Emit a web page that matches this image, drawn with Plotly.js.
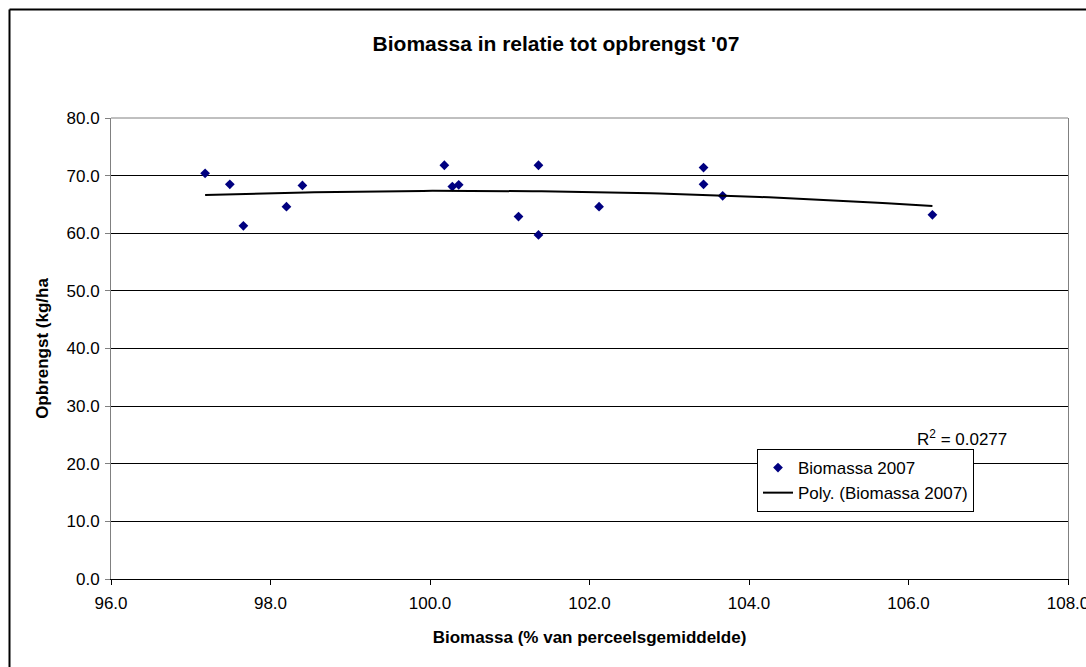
<!DOCTYPE html>
<html>
<head>
<meta charset="utf-8">
<script src="https://cdn.plot.ly/plotly-3.0.1.min.js"></script>
<style>
html,body{margin:0;padding:0;background:#fff;}
#chart{width:1086px;height:667px;}
</style>
</head>
<body>
<div id="chart"></div>
<script>
// Data
var biomassa = [97.18, 97.49, 97.66, 98.20, 98.40, 100.18, 100.28, 100.36, 101.11, 101.36, 101.36, 102.12, 103.43, 103.43, 103.67, 106.30];
var opbrengst = [70.4, 68.5, 61.3, 64.6, 68.3, 71.8, 68.1, 68.4, 62.9, 71.8, 59.7, 64.6, 71.4, 68.5, 66.5, 63.2];
var xTicks = [96, 98, 100, 102, 104, 106, 108];
var yTicks = [0, 10, 20, 30, 40, 50, 60, 70, 80];
var seriesName = "Biomassa 2007";
var trendName = "Poly. (Biomassa 2007)";
var r2Label = "R<sup>2</sup> = 0.0277";

// Order-2 polynomial least-squares trendline computed from the data
function polyFit2(xs, ys) {
  var n = xs.length, mx = 0;
  for (var i = 0; i < n; i++) mx += xs[i];
  mx /= n;
  var S = [0,0,0,0,0], T = [0,0,0];
  for (var i = 0; i < n; i++) {
    var u = xs[i] - mx, p = 1;
    for (var k = 0; k < 5; k++) { S[k] += p; if (k < 3) T[k] += p * ys[i]; p *= u; }
  }
  var A = [[S[0],S[1],S[2],T[0]],[S[1],S[2],S[3],T[1]],[S[2],S[3],S[4],T[2]]];
  for (var c = 0; c < 3; c++) {
    for (var r = c + 1; r < 3; r++) {
      var f = A[r][c] / A[c][c];
      for (var k = c; k < 4; k++) A[r][k] -= f * A[c][k];
    }
  }
  var b = [0,0,0];
  for (var r = 2; r >= 0; r--) {
    var s = A[r][3];
    for (var k = r + 1; k < 3; k++) s -= A[r][k] * b[k];
    b[r] = s / A[r][r];
  }
  return function (x) { var u = x - mx; return b[0] + b[1]*u + b[2]*u*u; };
}
var fit = polyFit2(biomassa, opbrengst);
var xmin = Math.min.apply(null, biomassa), xmax = Math.max.apply(null, biomassa);
var trendX = [], trendY = [];
var steps = 80;
for (var i = 0; i <= steps; i++) {
  var xv = xmin + (xmax - xmin) * i / steps;
  trendX.push(xv); trendY.push(fit(xv));
}

var FONT = "Arial, 'Liberation Sans', sans-serif";

var traces = [
  {
    type: "scatter", mode: "markers", name: seriesName, legendgroup: "a",
    x: biomassa, y: opbrengst,
    marker: {symbol: "diamond", size: 7.5, color: "#000080", line: {width: 0}},
    hoverinfo: "x+y"
  },
  {
    type: "scatter", mode: "lines", name: trendName, legendgroup: "b",
    x: trendX, y: trendY,
    line: {color: "#000000", width: 2},
    hoverinfo: "skip"
  }
];

var layout = {
  width: 1086, height: 667,
  paper_bgcolor: "#ffffff", plot_bgcolor: "#ffffff",
  margin: {l: 111, r: 18, t: 118, b: 88, pad: 0},
  font: {family: FONT, size: 17, color: "#000000"},
  title: {
    text: "<b>Biomassa in relatie tot opbrengst '07</b>",
    font: {family: FONT, size: 21, color: "#000000"},
    x: 556 / 1086, xref: "container", xanchor: "center",
    y: 1 - 44 / 667, yref: "container", yanchor: "middle"
  },
  xaxis: {
    range: [96, 108], tickvals: xTicks, tickformat: ".1f",
    ticks: "outside", ticklen: 5, tickcolor: "#000000", tickwidth: 1,
    ticklabelstandoff: 4, ticklabeloverflow: "allow",
    showline: true, linecolor: "#000000", linewidth: 1,
    showgrid: false, zeroline: false,
    tickfont: {family: FONT, size: 17, color: "#000000"},
    title: {text: "<b>Biomassa (% van perceelsgemiddelde)</b>", font: {family: FONT, size: 17, color: "#000000"}, standoff: 18},
    fixedrange: true
  },
  yaxis: {
    range: [0, 80], tickvals: yTicks, tickformat: ".1f",
    ticks: "outside", ticklen: 5, tickcolor: "#808080", tickwidth: 1,
    ticklabelstandoff: 2, ticklabeloverflow: "allow",
    showline: true, linecolor: "#808080", linewidth: 1, mirror: true,
    showgrid: true, gridcolor: "#000000", gridwidth: 1,
    zeroline: false,
    tickfont: {family: FONT, size: 17, color: "#000000"},
    title: {text: "<b>Opbrengst (kg/ha</b>", font: {family: FONT, size: 17, color: "#000000"}, standoff: 13},
    fixedrange: true
  },
  showlegend: true,
  legend: {
    x: (757 - 111) / 957, y: (579 - 449) / 461, xanchor: "left", yanchor: "top",
    bgcolor: "#ffffff", bordercolor: "#000000", borderwidth: 1,
    font: {family: FONT, size: 17, color: "#000000"},
    tracegroupgap: 0, traceorder: "normal"
  },
  annotations: [
    {
      text: r2Label, xref: "paper", yref: "paper",
      x: (962 - 111) / 957, y: (579 - 438) / 461, xanchor: "center", yanchor: "middle",
      showarrow: false, font: {family: FONT, size: 17, color: "#000000"}
    }
  ],
  shapes: [
    {type: "line", xref: "paper", yref: "paper", x0: (9.5 - 111) / 957, x1: (9.5 - 111) / 957, y0: 1 + (118 - 9.5) / 461, y1: -0.4, line: {color: "#000000", width: 2}},
    {type: "line", xref: "paper", yref: "paper", x0: (9.5 - 111) / 957, x1: 1.2, y0: 1 + (118 - 9.5) / 461, y1: 1 + (118 - 9.5) / 461, line: {color: "#000000", width: 2}},
    {type: "line", xref: "paper", yref: "paper", x0: 0, x1: 1, y0: 1, y1: 1, line: {color: "#808080", width: 1}}
  ]
};

Plotly.newPlot("chart", traces, layout, {displayModeBar: false, staticPlot: true});
</script>
</body>
</html>
